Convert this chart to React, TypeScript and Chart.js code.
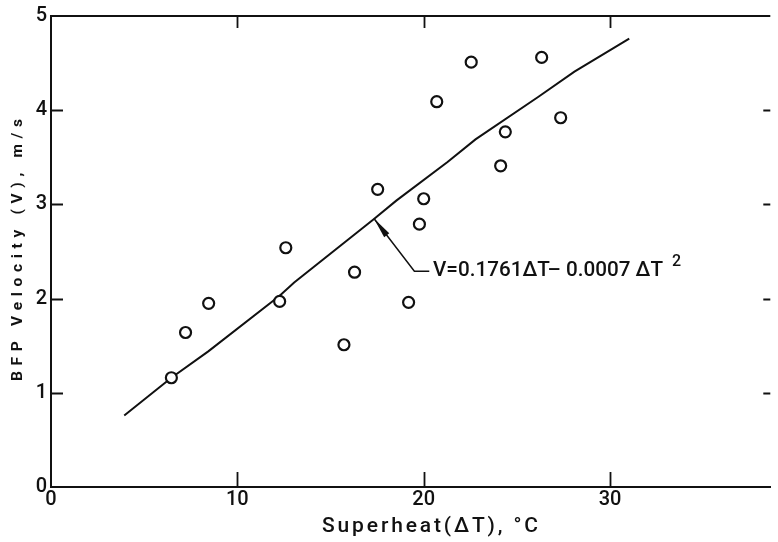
import React, { useEffect, useRef } from "react";
import { Chart, registerables } from "chart.js";

Chart.register(...registerables);

// Observed data (superheat ΔT, °C vs BFP velocity V, m/s)
const obsT = [6.46, 7.22, 8.46, 12.27, 12.6, 15.72, 16.29, 17.53, 19.19, 19.77, 20.0, 20.7, 22.55, 24.13, 24.38, 26.33, 27.35];
const obsV = [1.16, 1.64, 1.95, 1.97, 2.54, 1.51, 2.28, 3.16, 1.96, 2.79, 3.06, 4.09, 4.51, 3.41, 3.77, 4.56, 3.92];

// Fitted curve as drawn
const fitT = [3.93, 6.46, 8.44, 12.27, 13.05, 17.3, 18.53, 21.28, 22.78, 26.14, 28.09, 31.03];
const fitV = [0.76, 1.16, 1.44, 2.03, 2.17, 2.84, 3.04, 3.45, 3.69, 4.14, 4.41, 4.76];

const xTicks = [0, 10, 20, 30];
const yTicks = [0, 1, 2, 3, 4, 5];
const xMax = 38.6;
const yMax = 5;

const xTitle = "Superheat(ΔT), °C";
const yTitle = "BFP Velocity (V), m/s";
const eqText = "V=0.1761ΔT– 0.0007 ΔT";
const eqSup = "2";

// annotation anchor points in data units
const arrowTip = { t: 17.33, v: 2.85 };
const arrowBend = { t: 19.5, v: 2.29 };
const leaderEndT = 20.3;
const eqStartT = 20.5;

const INK = "#111";

function drawSpaced(ctx: CanvasRenderingContext2D, text: string, cx: number, baseY: number, target: number) {
  const chars = Array.from(text);
  const ws = chars.map((c) => ctx.measureText(c).width);
  const W = ws.reduce((a, b) => a + b, 0);
  const gap = chars.length > 1 ? (target - W) / (chars.length - 1) : 0;
  let xx = cx - target / 2;
  ctx.textAlign = "left";
  ctx.textBaseline = "alphabetic";
  chars.forEach((c, i) => {
    ctx.fillText(c, xx, baseY);
    xx += ws[i] + gap;
  });
}

const overlay = {
  id: "overlay",
  afterDraw(chart: any) {
    const { ctx, chartArea: a, scales } = chart;
    const x = scales.x;
    const y = scales.y;
    ctx.save();
    ctx.strokeStyle = INK;
    ctx.fillStyle = INK;
    ctx.lineWidth = 2;
    ctx.lineCap = "butt";
    // top frame line
    ctx.beginPath();
    ctx.moveTo(a.left, a.top);
    ctx.lineTo(a.right, a.top);
    ctx.stroke();
    // inward ticks
    ctx.lineWidth = 1.8;
    for (const v of xTicks) {
      if (v === 0) continue;
      const px = Math.round(x.getPixelForValue(v)) + 0.5;
      ctx.beginPath();
      ctx.moveTo(px, a.bottom);
      ctx.lineTo(px, a.bottom - 15);
      ctx.moveTo(px, a.top);
      ctx.lineTo(px, a.top + 12);
      ctx.stroke();
    }
    for (const v of yTicks) {
      if (v === 0 || v === 5) continue;
      const py = Math.round(y.getPixelForValue(v)) + 0.5;
      ctx.beginPath();
      ctx.moveTo(a.left, py);
      ctx.lineTo(a.left + 12, py);
      ctx.moveTo(a.right - 7, py);
      ctx.lineTo(a.right, py);
      ctx.stroke();
    }

    // arrow annotation
    const tx = x.getPixelForValue(arrowTip.t);
    const ty = y.getPixelForValue(arrowTip.v);
    const bx = x.getPixelForValue(arrowBend.t);
    const by = y.getPixelForValue(arrowBend.v);
    const ex = x.getPixelForValue(leaderEndT);
    ctx.lineWidth = 1.5;
    ctx.beginPath();
    ctx.moveTo(tx, ty);
    ctx.lineTo(bx, by);
    ctx.lineTo(ex, by);
    ctx.stroke();
    // arrow head
    const dx = bx - tx;
    const dy = by - ty;
    const len = Math.hypot(dx, dy);
    const ux = dx / len;
    const uy = dy / len;
    const hl = 21;
    const hw = 3.2;
    ctx.beginPath();
    ctx.moveTo(tx, ty);
    ctx.lineTo(tx + ux * hl - uy * hw, ty + uy * hl + ux * hw);
    ctx.lineTo(tx + ux * hl + uy * hw, ty + uy * hl - ux * hw);
    ctx.closePath();
    ctx.fill();

    // equation text
    const sx = x.getPixelForValue(eqStartT);
    const base = by + 4.5;
    ctx.font = "500 21px Roboto";
    ctx.textAlign = "left";
    ctx.textBaseline = "alphabetic";
    const w = ctx.measureText(eqText).width;
    const target = 230;
    ctx.save();
    ctx.translate(sx, base);
    ctx.scale(target / w, 1);
    ctx.fillText(eqText, 0, 0);
    ctx.restore();
    ctx.font = "500 16px Roboto";
    ctx.fillText(eqSup, sx + target + 9, base - 10);

    // axis titles
    ctx.font = "500 21px Roboto";
    drawSpaced(ctx, xTitle, 430, 532, 216);
    ctx.save();
    ctx.translate(21.5, 250);
    ctx.rotate(-Math.PI / 2);
    ctx.font = "bold 15.5px Roboto";
    drawSpaced(ctx, yTitle, 0, 0, 262);
    ctx.restore();

    ctx.restore();
  },
};

export default function App() {
  const ref = useRef<HTMLCanvasElement | null>(null);
  useEffect(() => {
    if (!ref.current) return;
    Chart.defaults.font.family = "Roboto";
    const chart = new Chart(ref.current, {
      type: "scatter",
      data: {
        datasets: [
          {
            label: "Observed",
            data: obsT.map((t, i) => ({ x: t, y: obsV[i] })),
            pointRadius: 5.5,
            pointHoverRadius: 5.5,
            pointBorderWidth: 2.2,
            pointBorderColor: INK,
            pointBackgroundColor: "#fff",
            showLine: false,
          },
          {
            label: "Fit",
            data: fitT.map((t, i) => ({ x: t, y: fitV[i] })),
            showLine: true,
            borderColor: INK,
            borderWidth: 2,
            pointRadius: 0,
            tension: 0,
          },
        ],
      },
      options: {
        animation: false,
        responsive: true,
        maintainAspectRatio: false,
        layout: { padding: { top: 12, right: 0, left: 0, bottom: 0 } },
        plugins: {
          legend: { display: false },
          tooltip: { enabled: false },
        },
        events: [],
        scales: {
          x: {
            type: "linear",
            min: 0,
            max: xMax,
            afterBuildTicks: (s: any) => {
              s.ticks = xTicks.map((v) => ({ value: v }));
            },
            afterFit: (s: any) => {
              s.height = 55;
            },
            grid: { display: false, drawTicks: false },
            border: { display: true, color: INK, width: 2 },
            ticks: {
              color: INK,
              padding: 1,
              maxRotation: 0,
              autoSkip: false,
              font: { family: "Roboto", size: 20, weight: "500" },
            },
          },
          y: {
            type: "linear",
            min: 0,
            max: yMax,
            afterBuildTicks: (s: any) => {
              s.ticks = yTicks.map((v) => ({ value: v }));
            },
            afterFit: (s: any) => {
              s.width = 51;
            },
            grid: { display: false, drawTicks: false },
            border: { display: true, color: INK, width: 2 },
            ticks: {
              color: INK,
              padding: 4,
              autoSkip: false,
              font: { family: "Roboto", size: 20, weight: "500" },
            },
          },
        },
      },
      plugins: [overlay],
    });
    return () => chart.destroy();
  }, []);
  return (
    <div style={{ position: "absolute", left: 0, top: 0, width: 778, height: 542, background: "#fff" }}>
      <canvas ref={ref} />
    </div>
  );
}
